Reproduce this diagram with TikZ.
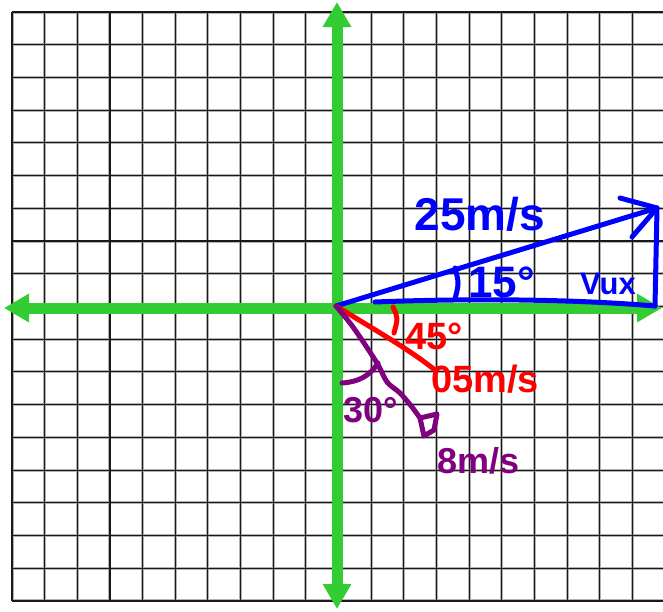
\documentclass[tikz,border=0pt]{standalone}
\usepackage{fontspec}
\setmainfont{Liberation Sans}
\usetikzlibrary{arrows.meta}
\definecolor{axisgreen}{RGB}{50,205,50}
\definecolor{penblue}{RGB}{0,0,255}
\definecolor{penred}{RGB}{255,0,0}
\definecolor{penpurple}{RGB}{128,0,128}
\begin{document}
\begin{tikzpicture}[x=1pt,y=-1pt,
  gridhalo/.style={draw=black!30,line width=3pt},
  gridcore/.style={draw=black!90,line width=1.1pt},
  axisline/.style={draw=axisgreen,line width=11pt,{Triangle[width=27pt,length=25pt]}-{Triangle[width=27pt,length=25pt]}},
  pen/.style={line width=5pt,line cap=round,line join=round},
  lbl/.style={inner sep=0pt,font=\bfseries}]
\useasboundingbox (0,0) rectangle (663,611);
\fill[white] (0,0) rectangle (663,611);
% grid
\foreach \k in {0,...,18} \draw[gridhalo] (12,{12+32.72*\k}) -- (663,{12+32.72*\k});
\foreach \k in {0,...,19} \draw[gridhalo] ({12+32.65*\k},12) -- ({12+32.65*\k},601);
\foreach \k in {0,...,18} \draw[gridcore] (12,{12+32.72*\k}) -- (663,{12+32.72*\k});
\foreach \k in {0,...,19} \draw[gridcore] ({12+32.65*\k},12) -- ({12+32.65*\k},601);
% axes
\coordinate (top) at (337,2);
\coordinate (bottom) at (337,609);
\coordinate (left) at (4,308);
\coordinate (right) at (662,308);
\draw[axisline] (bottom) -- (top);
\draw[axisline] (left) -- (right);
% blue vector
\coordinate (O) at (336,306);
\coordinate (btip) at (657,208);
\coordinate (bh1) at (620,198);
\coordinate (bh2) at (632,237);
\coordinate (bcorner) at (655,306);
\coordinate (bstart) at (375,302);
\draw[pen,penblue] (O) -- (btip);
\draw[pen,penblue] (bh1) -- (btip) -- (bh2);
\draw[pen,penblue] (btip) -- (bcorner);
\draw[pen,penblue] (bstart) .. controls (450,299) and (560,298) .. (bcorner);
\coordinate (barcA) at (455,268);
\coordinate (barcB) at (455,299);
\draw[pen,penblue] (barcA) .. controls (459,283) .. (barcB);
\node[lbl,penblue,font=\bfseries\fontsize{46pt}{46pt}\selectfont] (v25) at (480,214) {25m/s};
\node[lbl,penblue,font=\bfseries\fontsize{44pt}{44pt}\selectfont,anchor=base west] (a15) at (468,297) {15°};
\node[lbl,penblue,font=\bfseries\fontsize{31pt}{31pt}\selectfont,anchor=base west] (vux) at (580,294) {Vux};
% red vector
\coordinate (rtip) at (435,370);
\draw[pen,penred] (O) .. controls (380,333) and (410,350) .. (rtip);
\coordinate (rarcA) at (393,307);
\coordinate (rarcB) at (394,333);
\draw[pen,penred] (rarcA) .. controls (398,318) .. (rarcB);
\node[lbl,penred,font=\bfseries\fontsize{38pt}{38pt}\selectfont,anchor=base west] (a45) at (405,349) {45°};
\node[lbl,penred,font=\bfseries\fontsize{38pt}{38pt}\selectfont,anchor=base west] (v05) at (431,392) {05m/s};
% purple vector
\coordinate (pend) at (420,418);
\draw[pen,penpurple] plot[smooth] coordinates {(336,306) (353,327) (377,363) (387,382) (400,393) (412,407) (420,418)};
\coordinate (ph1) at (437,414);
\coordinate (ph2) at (434,430);
\coordinate (ph3) at (424,436);
\draw[pen,penpurple] (pend) -- (ph1) -- (ph2) -- (ph3) -- cycle;
\coordinate (parcA) at (342,383);
\coordinate (parcB) at (378,363);
\draw[pen,penpurple] (parcA) .. controls (358,382) and (370,376) .. (parcB);
\node[lbl,penpurple,font=\bfseries\fontsize{36pt}{36pt}\selectfont,anchor=base west] (a30) at (343,422) {30°};
\node[lbl,penpurple,font=\bfseries\fontsize{36pt}{36pt}\selectfont,anchor=base west] (v8) at (437,473) {8m/s};
\end{tikzpicture}
\end{document}
